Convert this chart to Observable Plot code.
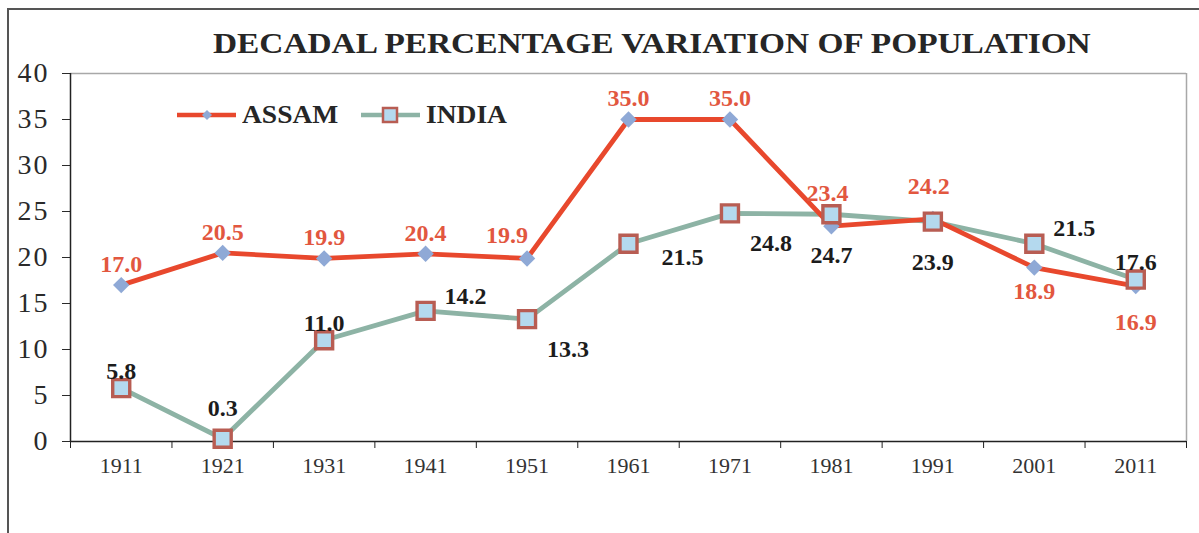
<!DOCTYPE html>
<html>
<head>
<meta charset="utf-8">
<script src="https://cdn.jsdelivr.net/npm/d3@7"></script>
<script src="https://cdn.jsdelivr.net/npm/@observablehq/plot@0.6"></script>
<style>
  html, body { margin: 0; padding: 0; background: #fff; }
  #wrap { position: relative; width: 1199px; height: 533px; overflow: hidden; font-family: "Liberation Serif", "Times New Roman", serif; }
  #frame { position: absolute; left: 7px; top: 8px; width: 1300px; height: 600px; border-top: 2px solid #555; border-left: 2px solid #555; }
  #title { position: absolute; left: 213px; top: 27px; font-size: 29px; font-weight: bold; color: #262626; white-space: nowrap; transform: scaleX(1.15); transform-origin: 0 0; }
  #legend { position: absolute; left: 176px; top: 101px; display: flex; align-items: center; font-size: 25px; font-weight: bold; color: #262626; }
  #legend .item { display: flex; align-items: center; margin-right: 30px; }
  #legend .item span { display: inline-block; transform: scaleX(1.1); transform-origin: 0 50%; }
  #legend svg { display: block; margin-right: 4px; }
  #chart { position: absolute; left: 0; top: 0; }
  #chart svg text { font-family: "Liberation Serif", "Times New Roman", serif; }
</style>
</head>
<body>
<div id="wrap">
  <div id="frame"></div>
  <div id="chart"></div>
  <div id="title">DECADAL PERCENTAGE VARIATION OF POPULATION</div>
  <div id="legend"></div>
</div>
<script>
// ---- data ----
const years = [1911, 1921, 1931, 1941, 1951, 1961, 1971, 1981, 1991, 2001, 2011];
const assam = [17.0, 20.5, 19.9, 20.4, 19.9, 35.0, 35.0, 23.4, 24.2, 18.9, 16.9];
const india = [5.8, 0.3, 11.0, 14.2, 13.3, 21.5, 24.8, 24.7, 23.9, 21.5, 17.6];
const yTicks = [0, 5, 10, 15, 20, 25, 30, 35, 40];
const seriesNames = ["ASSAM", "INDIA"];
// label placement keywords (mapped to offsets below)
const assamLabelPlace = ["above", "above", "above", "above", "above-left", "above", "above", "above-far", "above-far", "below", "below-far"];
const indiaLabelPlace = ["above", "above-far", "above", "right-up", "right-down-far", "right-down", "right-down-far", "below-far", "below-far", "right-up", "above"];

// ---- styles ----
const RED = "#e8482d", RED_TXT = "#e2573f", TEAL = "#8db3a5", DIAMOND = "#8fa9d6";
const SQ_FILL = "#b4d9ee", SQ_STROKE = "#b85d53", BLACK_TXT = "#1c1c1c";
const FONT = '"Liberation Serif", "Times New Roman", serif';

const assamData = years.map((year, i) => ({year, value: assam[i], place: assamLabelPlace[i]}));
const indiaData = years.map((year, i) => ({year, value: india[i], place: indiaLabelPlace[i]}));

const boundaries = years.map(y => y - 5).concat([years[years.length - 1] + 5]);

const assamOffsets = {
  "above": [0, -21], "above-left": [-20, -23], "above-far": [-4, -33],
  "below": [0, 24], "below-far": [0, 36]
};
const indiaOffsets = {
  "above": [0, -17], "above-far": [0, -30], "right-up": [40, -15],
  "right-down": [54, 14], "right-down-far": [41, 30], "below-far": [0, 41]
};

function labelMarks(data, offsets, fill) {
  return Object.entries(offsets).map(([key, [dx, dy]]) =>
    Plot.text(data.filter(d => d.place === key), {
      x: "year", y: "value", text: d => d.value.toFixed(1),
      dx, dy, fill, fontSize: 24, fontWeight: "bold", fontFamily: FONT
    })
  );
}

const chart = Plot.plot({
  width: 1199,
  height: 533,
  marginTop: 73,
  marginBottom: 92,
  marginLeft: 70,
  marginRight: 13,
  style: {fontFamily: FONT, background: "transparent", overflow: "visible"},
  x: {type: "linear", domain: [boundaries[0], boundaries[boundaries.length - 1]], axis: null, label: null},
  y: {domain: [0, 40], axis: null, label: null},
  marks: [
    // plot-area frame (light grey top/right)
    Plot.ruleY([40], {stroke: "#a8a8a8", strokeWidth: 1.5}),
    Plot.ruleX([boundaries[boundaries.length - 1]], {stroke: "#a8a8a8", strokeWidth: 1.5}),
    // y axis
    Plot.axisY({ticks: yTicks, label: null, tickSize: 8, tickPadding: 13, fontSize: 28, fontFamily: FONT, color: "#2a2a2a", tickFormat: d => String(d)}),
    Plot.ruleX([boundaries[0]], {stroke: "#222", strokeWidth: 1.5}),
    // x axis: ticks at category boundaries, labels at category centres
    Plot.axisX({ticks: boundaries, label: null, tickSize: 7, tickFormat: () => "", color: "#222"}),
    Plot.axisX({ticks: years, label: null, tickSize: 0, tickPadding: 16, fontSize: 22, fontFamily: FONT, color: "#333", tickFormat: d => String(d)}),
    Plot.ruleY([0], {stroke: "#222", strokeWidth: 1.5}),
    // series lines
    Plot.line(indiaData, {x: "year", y: "value", stroke: TEAL, strokeWidth: 4.8}),
    Plot.line(assamData, {x: "year", y: "value", stroke: RED, strokeWidth: 4.8}),
    // markers
    Plot.dot(assamData, {x: "year", y: "value", symbol: "diamond2", r: 7.4, fill: DIAMOND, stroke: "none"}),
    Plot.dot(indiaData, {x: "year", y: "value", symbol: "square", r: 9.6, fill: SQ_FILL, stroke: SQ_STROKE, strokeWidth: 3.4}),
    // data labels
    ...labelMarks(assamData, assamOffsets, RED_TXT),
    ...labelMarks(indiaData, indiaOffsets, BLACK_TXT)
  ]
});
document.getElementById("chart").appendChild(chart);
chart.querySelectorAll('g[aria-label="y-axis tick label"] text').forEach(t => t.setAttribute("letter-spacing", "2"));

// ---- legend ----
const legend = document.getElementById("legend");
const swatches = [
  `<svg width="62" height="20"><line x1="1" y1="10" x2="60" y2="10" stroke="${RED}" stroke-width="4.5"/><path d="M26 10 L31 5 L36 10 L31 15 Z" fill="${DIAMOND}"/></svg>`,
  `<svg width="62" height="22"><line x1="1" y1="11" x2="60" y2="11" stroke="${TEAL}" stroke-width="4.5"/><rect x="23" y="4" width="14" height="14" fill="${SQ_FILL}" stroke="${SQ_STROKE}" stroke-width="2.5"/></svg>`
];
seriesNames.forEach((name, i) => {
  const item = document.createElement("div");
  item.className = "item";
  item.innerHTML = swatches[i] + `<span>${name}</span>`;
  legend.appendChild(item);
});
</script>
</body>
</html>
